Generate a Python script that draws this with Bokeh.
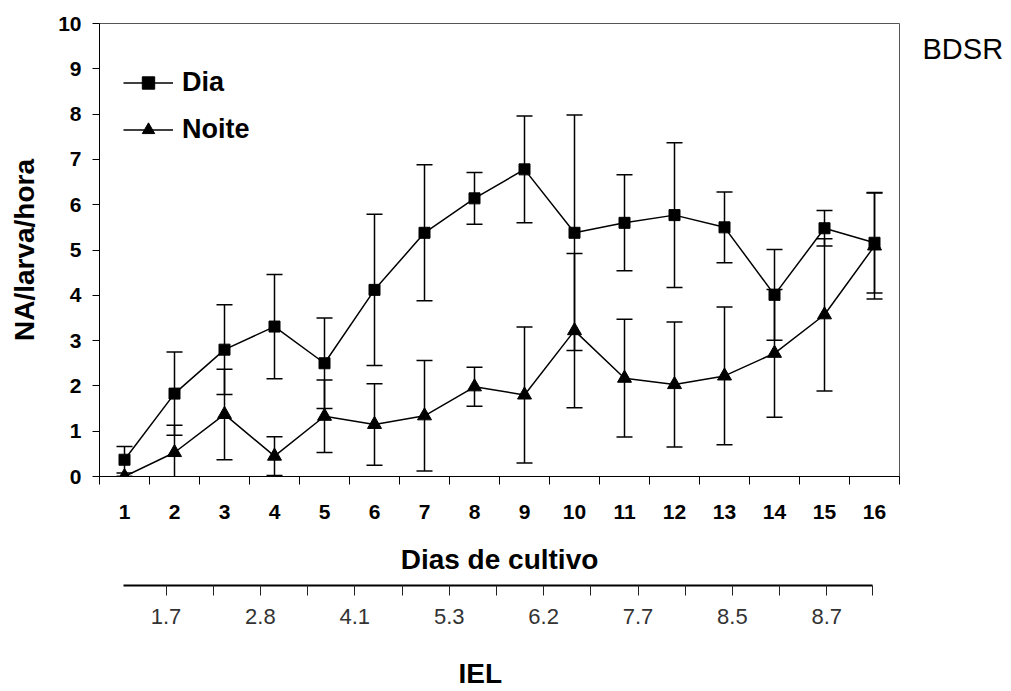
from bokeh.plotting import figure
from bokeh.models import (Range1d, LinearAxis, FixedTicker, Whisker, ColumnDataSource, TeeHead)
from bokeh.embed import file_html
from bokeh.resources import INLINE

# ---------------- data ----------------
days = list(range(1, 17))
day_labels = [str(d) for d in days]

dia_mean = [0.37, 1.83, 2.80, 3.31, 2.50, 4.12, 5.38, 6.14, 6.78, 5.38, 5.60, 5.77, 5.50, 4.01, 5.48, 5.16]
dia_err = [0.29, 0.92, 0.99, 1.15, 1.00, 1.67, 1.50, 0.57, 1.18, 2.60, 1.06, 1.60, 0.78, 1.00, 0.39, 1.11]

noite_mean = [0.00, 0.53, 1.37, 0.45, 1.33, 1.15, 1.34, 1.98, 1.80, 3.22, 2.17, 2.03, 2.22, 2.72, 3.57, 5.09]
noite_err = [0.00, 0.60, 1.00, 0.43, 0.80, 0.90, 1.22, 0.43, 1.50, 1.70, 1.30, 1.38, 1.52, 1.41, 1.68, 1.17]

y_ticks = list(range(0, 11))

# IEL secondary scale: 15 tick marks, every other one labelled
iel_tick_idx = list(range(1, 16))
iel_labels = ["1.7", "2.8", "4.1", "5.3", "6.2", "7.7", "8.5", "8.7"]

FONT = "Liberation Sans"

# ---------------- figure ----------------
p = figure(width=1008, height=691, output_backend="svg", toolbar_location=None,
           x_range=Range1d(0.5, 16.5), y_range=Range1d(0, 10),
           min_border_left=99, min_border_right=109, min_border_top=23, min_border_bottom=214)
p.background_fill_color = "white"
p.border_fill_color = "white"
p.outline_line_color = "#555555"
p.outline_line_width = 1
p.xgrid.visible = False
p.ygrid.visible = False

# main x axis (days)
xa = p.xaxis[0]
xa.ticker = FixedTicker(ticks=days, minor_ticks=[d - 0.5 for d in days] + [days[-1] + 0.5])
xa.major_label_overrides = {d: lab for d, lab in zip(days, day_labels)}
xa.major_tick_out = 0
xa.major_tick_in = 0
xa.minor_tick_out = 8
xa.minor_tick_in = 0
xa.minor_tick_line_color = "black"
xa.axis_line_color = "black"
xa.major_label_standoff = 20
xa.major_label_text_font = FONT
xa.major_label_text_font_style = "bold"
xa.major_label_text_font_size = "21px"
xa.major_label_text_color = "black"
xa.axis_label = "Dias de cultivo"
xa.axis_label_text_font = FONT
xa.axis_label_text_font_style = "bold"
xa.axis_label_text_font_size = "28px"
xa.axis_label_text_color = "black"
xa.axis_label_standoff = 22

# y axis
ya = p.yaxis[0]
ya.ticker = FixedTicker(ticks=y_ticks)
ya.major_tick_out = 7
ya.major_tick_in = 0
ya.minor_tick_out = 0
ya.minor_tick_in = 0
ya.axis_line_color = "black"
ya.major_tick_line_color = "black"
ya.major_label_standoff = 11
ya.major_label_text_font = FONT
ya.major_label_text_font_style = "bold"
ya.major_label_text_font_size = "21px"
ya.major_label_text_color = "black"
ya.axis_label = "NA/larva/hora"
ya.axis_label_text_font = FONT
ya.axis_label_text_font_style = "bold"
ya.axis_label_text_font_size = "28px"
ya.axis_label_text_color = "black"
ya.axis_label_standoff = 15

# secondary IEL scale below
p.extra_x_ranges = {"iel": Range1d(-0.409, 16.54)}

# blank spacer between "Dias de cultivo" and the IEL scale
gap = LinearAxis(x_range_name="iel", ticker=FixedTicker(ticks=[8]),
                 major_label_overrides={8: " "}, axis_line_alpha=0,
                 major_tick_out=8, major_tick_in=0, minor_tick_out=0, minor_tick_in=0,
                 major_tick_line_alpha=0, major_label_standoff=0,
                 major_label_text_font_size="1px", major_label_text_alpha=0)
p.add_layout(gap, "below")

iel_major = iel_tick_idx[::2]
iel_minor = iel_tick_idx[1::2] + [15.97]
ia = LinearAxis(x_range_name="iel",
                ticker=FixedTicker(ticks=iel_major, minor_ticks=iel_minor),
                major_label_overrides={k: lab for k, lab in zip(iel_major, iel_labels)},
                bounds=(0.10, 15.97))
ia.axis_line_color = "black"
ia.axis_line_width = 2
ia.major_tick_out = 10
ia.major_tick_in = 0
ia.minor_tick_out = 10
ia.minor_tick_in = 0
ia.major_tick_line_color = "#222222"
ia.minor_tick_line_color = "#222222"
ia.major_label_standoff = 13
ia.major_label_text_font = FONT
ia.major_label_text_font_size = "22px"
ia.major_label_text_color = "#333333"
p.add_layout(ia, "below")

# "IEL" title of the secondary scale, placed as a single tick label
iel_title = LinearAxis(x_range_name="iel", ticker=FixedTicker(ticks=[7.66]),
                       major_label_overrides={7.66: "IEL"}, axis_line_alpha=0,
                       major_tick_out=0, major_tick_in=0, minor_tick_out=0, minor_tick_in=0,
                       major_tick_line_alpha=0, major_label_standoff=31)
iel_title.major_label_text_font = FONT
iel_title.major_label_text_font_style = "bold"
iel_title.major_label_text_font_size = "28px"
iel_title.major_label_text_color = "black"
p.add_layout(iel_title, "below")

# "BDSR" tag at the upper right, outside the frame, as a single right-side tick label
tag = LinearAxis(ticker=FixedTicker(ticks=[9.43]), major_label_overrides={9.43: "BDSR"},
                 axis_line_alpha=0, major_tick_out=0, major_tick_in=0,
                 minor_tick_out=0, minor_tick_in=0, major_tick_line_alpha=0,
                 major_label_standoff=23)
tag.major_label_text_font = FONT
tag.major_label_text_font_style = "normal"
tag.major_label_text_font_size = "29px"
tag.major_label_text_color = "black"
p.add_layout(tag, "right")

# ---------------- error bars ----------------
src_dia = ColumnDataSource(dict(x=days,
                                upper=[m + e for m, e in zip(dia_mean, dia_err)],
                                lower=[m - e for m, e in zip(dia_mean, dia_err)]))
src_noite = ColumnDataSource(dict(x=days,
                                  upper=[m + e for m, e in zip(noite_mean, noite_err)],
                                  lower=[m - e for m, e in zip(noite_mean, noite_err)]))
for src in (src_dia, src_noite):
    w = Whisker(base="x", upper="upper", lower="lower", source=src,
                line_color="black", line_width=1.5,
                upper_head=TeeHead(size=16, line_width=1.5, line_color="black"),
                lower_head=TeeHead(size=16, line_width=1.5, line_color="black"))
    p.add_layout(w)

# ---------------- series ----------------
p.line(days, dia_mean, line_color="black", line_width=1.5, legend_label="Dia")
p.scatter(days, dia_mean, marker="square", size=11, fill_color="black", line_color="black",
          legend_label="Dia")
p.line(days, noite_mean, line_color="black", line_width=1.5, legend_label="Noite")
p.scatter(days, noite_mean, marker="triangle", size=14, fill_color="black", line_color="black",
          legend_label="Noite")

lg = p.legend[0]
lg.location = (24, 331)
lg.margin = 0
lg.padding = 0
lg.spacing = 16
lg.glyph_width = 50
lg.glyph_height = 31
lg.label_height = 31
lg.label_standoff = 9
lg.label_text_font = FONT
lg.label_text_font_style = "bold"
lg.label_text_font_size = "27px"
lg.label_text_color = "black"
lg.border_line_alpha = 0
lg.background_fill_alpha = 0

open("out.html", "w").write(file_html(p, INLINE))
